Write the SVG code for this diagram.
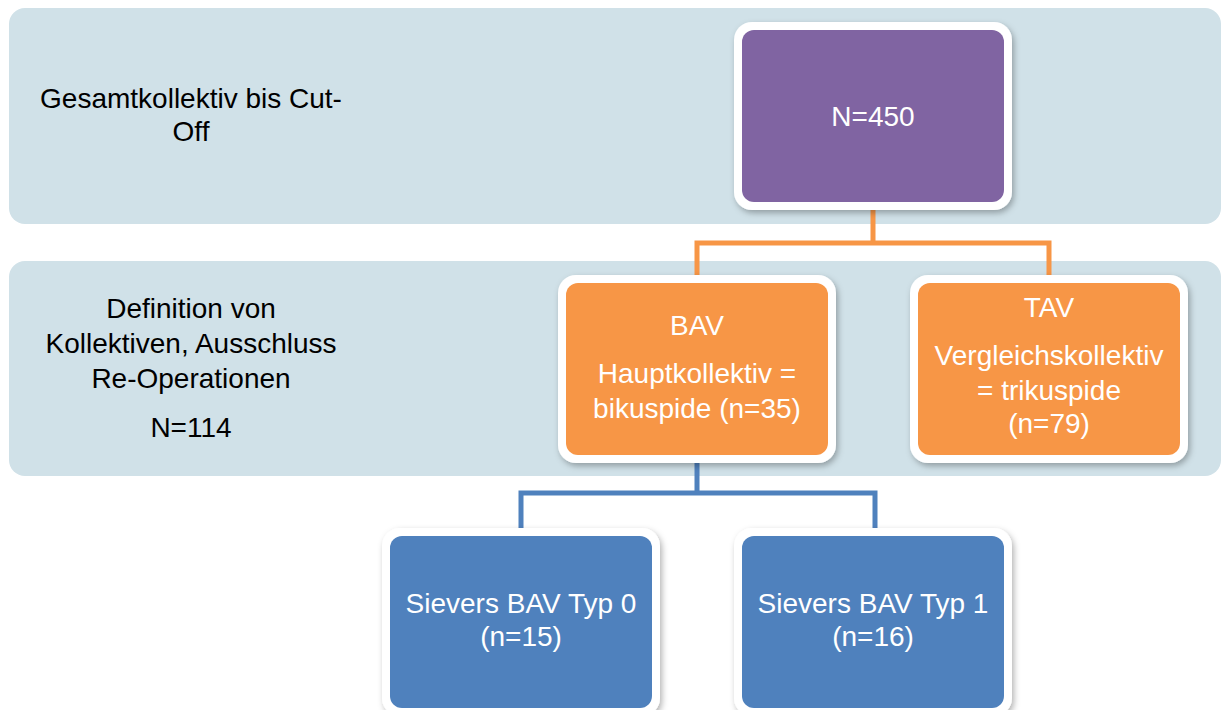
<svg xmlns="http://www.w3.org/2000/svg" width="1224" height="710" viewBox="0 0 1224 710">
  <defs>
    <filter id="shadow" x="-10%" y="-10%" width="125%" height="125%">
      <feDropShadow dx="2" dy="3" stdDeviation="3" flood-color="#000" flood-opacity="0.3"/>
    </filter>
  </defs>
  <style>
    .band { fill: #d0e1e8; }
    .frame { fill: #ffffff; filter: url(#shadow); }
    .purple { fill: #8064a2; }
    .orange { fill: #f79646; }
    .blue { fill: #4f81bd; }
    text { font-family: "Liberation Sans", Arial, sans-serif; font-size: 28px; text-anchor: middle; }
    .light { fill: #ffffff; }
    .dark { fill: #000000; }
    .conn-o { fill: none; stroke: #f79646; stroke-width: 5; }
    .conn-b { fill: none; stroke: #4f81bd; stroke-width: 5; }
  </style>

  <rect width="1224" height="710" fill="#ffffff"/>

  <!-- level bands -->
  <g id="band-total">
    <rect class="band" x="9" y="8" width="1212" height="216" rx="16"/>
    <text class="dark" x="191" y="108">Gesamtkollektiv bis Cut-</text>
    <text class="dark" x="191" y="141">Off</text>
  </g>
  <g id="band-definition">
    <rect class="band" x="9" y="261" width="1212" height="215" rx="16"/>
    <text class="dark" x="191" y="318">Definition von</text>
    <text class="dark" x="191" y="353">Kollektiven, Ausschluss</text>
    <text class="dark" x="191" y="388">Re-Operationen</text>
    <text class="dark" x="191" y="437">N=114</text>
  </g>

  <!-- connectors -->
  <g id="connectors">
    <path class="conn-o" d="M873 208 V243 M697 277 V243 H1049 V277"/>
    <path class="conn-b" d="M697 460 V493 M521 530 V493 H875 V530"/>
  </g>

  <!-- nodes -->
  <g id="node-total">
    <rect class="frame" x="734" y="22" width="278" height="188" rx="18"/>
    <rect class="purple" x="742" y="30" width="262" height="172" rx="12"/>
    <text class="light" x="873" y="126">N=450</text>
  </g>
  <g id="node-bav">
    <rect class="frame" x="558" y="275" width="278" height="188" rx="18"/>
    <rect class="orange" x="566" y="283" width="262" height="172" rx="12"/>
    <text class="light" x="697" y="335">BAV</text>
    <text class="light" x="697" y="383">Hauptkollektiv =</text>
    <text class="light" x="697" y="418">bikuspide (n=35)</text>
  </g>
  <g id="node-tav">
    <rect class="frame" x="910" y="275" width="278" height="188" rx="18"/>
    <rect class="orange" x="918" y="283" width="262" height="172" rx="12"/>
    <text class="light" x="1049" y="317">TAV</text>
    <text class="light" x="1049" y="365">Vergleichskollektiv</text>
    <text class="light" x="1049" y="400">= trikuspide</text>
    <text class="light" x="1049" y="433">(n=79)</text>
  </g>
  <g id="node-typ0">
    <rect class="frame" x="382" y="528" width="278" height="188" rx="18"/>
    <rect class="blue" x="390" y="536" width="262" height="172" rx="12"/>
    <text class="light" x="521" y="613">Sievers BAV Typ 0</text>
    <text class="light" x="521" y="646">(n=15)</text>
  </g>
  <g id="node-typ1">
    <rect class="frame" x="734" y="528" width="278" height="188" rx="18"/>
    <rect class="blue" x="742" y="536" width="262" height="172" rx="12"/>
    <text class="light" x="873" y="613">Sievers BAV Typ 1</text>
    <text class="light" x="873" y="646">(n=16)</text>
  </g>
</svg>
